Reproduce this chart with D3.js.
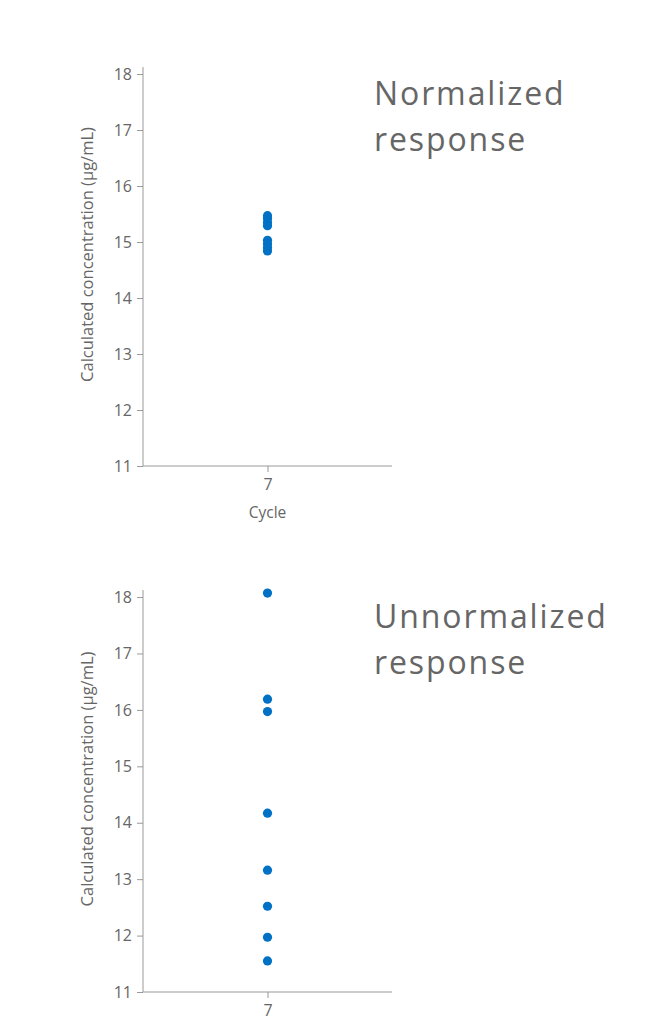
<!DOCTYPE html>
<html>
<head>
<meta charset="utf-8">
<script src="https://cdn.jsdelivr.net/npm/d3@7"></script>
<style>
  html, body { margin: 0; padding: 0; background: #fff; }
  svg text { font-family: "Open Sans", "Noto Sans", sans-serif; fill: #666; }
</style>
</head>
<body>
<svg id="chart" width="655" height="1025"></svg>
<script>
// Calculated concentration (µg/mL) per replicate at cycle 7
const cycles = ["7"];
const normalizedValues = [15.47, 15.42, 15.35, 15.29, 15.03, 14.97, 14.90, 14.84];
const unnormalizedValues = [18.07, 16.19, 15.97, 14.17, 13.16, 12.52, 11.97, 11.55];
const yTicks = [11, 12, 13, 14, 15, 16, 17, 18];
const panelTitles = [["Normalized", "response"], ["Unnormalized", "response"]];
const yLabel = "Calculated concentration (µg/mL)";
const xLabel = "Cycle";

const svg = d3.select("#chart");

function drawPanel(top, bottom, values, title, showXLabel) {
  const left = 143, width = 249, plotTop = top;
  const g = svg.append("g");

  const y = d3.scaleLinear().domain([11, 18.125]).range([bottom, plotTop]);
  const x = d3.scalePoint().domain(cycles).range([left, left + width]).padding(0.5);

  // y axis
  const yAxis = g.append("g")
    .attr("transform", `translate(${left},0)`)
    .call(d3.axisLeft(y).tickValues(yTicks).tickSize(6).tickPadding(5).tickFormat(d3.format("d")));
  yAxis.select(".domain").attr("stroke", "#999").attr("d", `M0,${plotTop}V${bottom}`);
  yAxis.selectAll(".tick line").attr("stroke", "#999");
  yAxis.selectAll(".tick text").attr("font-size", 16).attr("fill", "#666");

  // x axis
  const xAxis = g.append("g")
    .attr("transform", `translate(0,${bottom})`)
    .call(d3.axisBottom(x).tickSize(6).tickPadding(7));
  xAxis.select(".domain").attr("stroke", "#999").attr("d", `M${left},0H${left + width}`);
  xAxis.selectAll(".tick line").attr("stroke", "#999");
  xAxis.selectAll(".tick text").attr("font-size", 16).attr("fill", "#666");

  // axis titles
  g.append("text")
    .attr("transform", `translate(93,${(plotTop + bottom) / 2 - 12}) rotate(-90)`)
    .attr("text-anchor", "middle")
    .attr("font-size", 16.5)
    .text(yLabel);

  if (showXLabel) {
    g.append("text")
      .attr("x", x(cycles[0]))
      .attr("y", bottom + 52)
      .attr("text-anchor", "middle")
      .attr("font-size", 15.5)
      .text(xLabel);
  }

  // panel title
  g.append("text")
    .attr("font-size", 32)
    .attr("letter-spacing", 1.9)
    .selectAll("tspan")
    .data(title)
    .join("tspan")
    .attr("x", 374)
    .attr("y", (d, i) => plotTop + 38 + i * 46)
    .text(d => d);

  // replicate points
  g.selectAll("circle")
    .data(values)
    .join("circle")
    .attr("cx", x(cycles[0]))
    .attr("cy", d => y(d))
    .attr("r", 4.6)
    .attr("fill", "#0071c5");
}

drawPanel(67, 466, normalizedValues, panelTitles[0], true);
drawPanel(590, 992, unnormalizedValues, panelTitles[1], false);
</script>
</body>
</html>
